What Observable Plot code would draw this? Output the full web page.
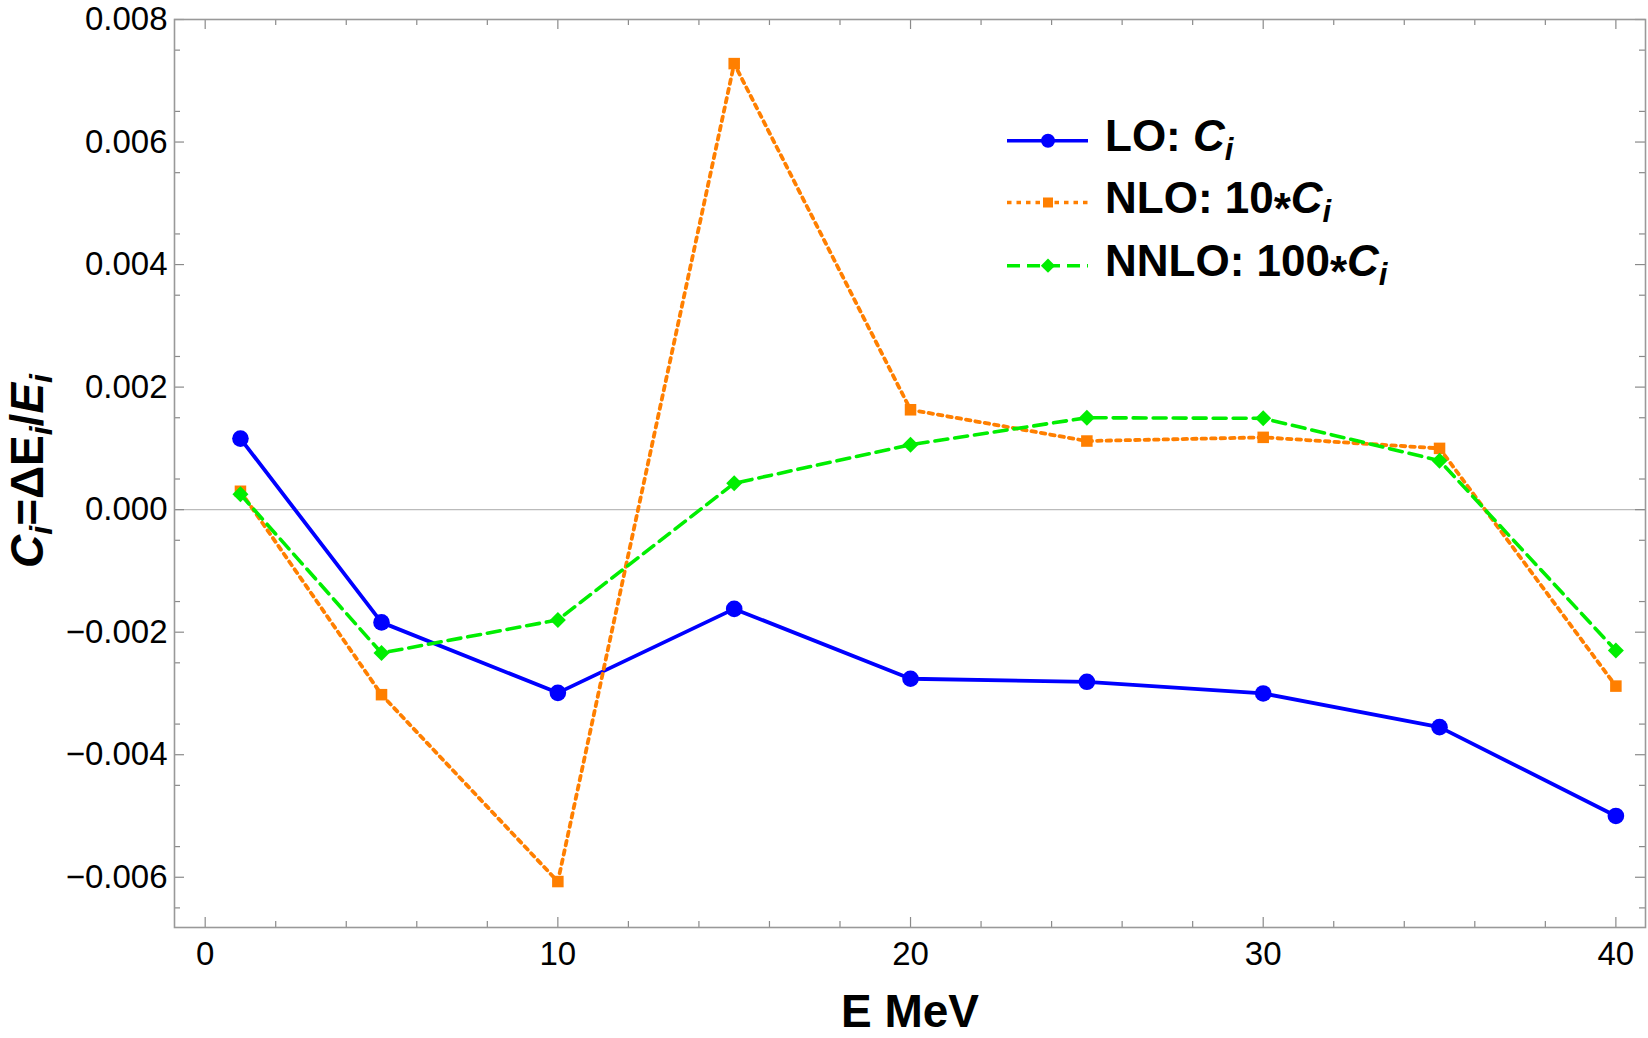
<!DOCTYPE html>
<html><head><meta charset="utf-8">
<script src="https://cdn.jsdelivr.net/npm/d3@7"></script>
<script src="https://cdn.jsdelivr.net/npm/@observablehq/plot@0.6"></script>
<style>
html,body{margin:0;padding:0;background:#fff;}
#chart{width:1648px;height:1038px;overflow:hidden;}
</style></head><body><div id="chart"></div>
<script>
// ---- data ----
const energies   = [1, 5, 10, 15, 20, 25, 30, 35, 40];
const loValues   = [0.00116, -0.00184, -0.00299, -0.00162, -0.00276, -0.00281, -0.00300, -0.00355, -0.00500];
const nloValues  = [0.00030, -0.00302, -0.00607, 0.00728, 0.00163, 0.00112, 0.00118, 0.00100, -0.00288];
const nnloValues = [0.00025, -0.00234, -0.00180, 0.00043, 0.00106, 0.00150, 0.00149, 0.00080, -0.00230];
const seriesNames = ["LO", "NLO", "NNLO"];
const xMajorTicks = [0, 10, 20, 30, 40];
const xMinorTicks = [2, 4, 6, 8, 12, 14, 16, 18, 22, 24, 26, 28, 32, 34, 36, 38];
const yMajorTicks = [-0.006, -0.004, -0.002, 0, 0.002, 0.004, 0.006, 0.008];
const yMinorTicks = [-0.0065, -0.0055, -0.0045, -0.0035, -0.0025, -0.0015, -0.0005,
                     0.0005, 0.0015, 0.0025, 0.0035, 0.0045, 0.0055, 0.0065, 0.0075];

// ---- layout ----
const W = 1648, H = 1038, mL = 174, mR = 3, mT = 19, mB = 111;
const fW = W - mL - mR, fH = H - mT - mB;
const blue = "#0000ff", orange = "#ff7f00", green = "#00ee00";
const tickColor = "#8a8a8a";

const lo   = energies.map((E, i) => ({E, C: loValues[i]}));
const nlo  = energies.map((E, i) => ({E, C: nloValues[i]}));
const nnlo = energies.map((E, i) => ({E, C: nnloValues[i]}));

const fmt = d3.format(".3f");

const plot = Plot.plot({
  width: W, height: H,
  marginLeft: mL, marginRight: mR, marginTop: mT, marginBottom: mB,
  style: {fontFamily: "'Liberation Sans', Arial, sans-serif", fontSize: "33px", color: "black", background: "white"},
  x: {domain: [-0.87, 40.84]},
  y: {domain: [-0.00682, 0.008]},
  marks: [
    Plot.ruleY([0], {stroke: "#bbbbbb", strokeWidth: 1.3}),
    // inward frame ticks
    Plot.tickX(xMajorTicks, {x: d => d, stroke: tickColor, strokeWidth: 1.2, insetTop: fH - 10}),
    Plot.tickX(xMinorTicks, {x: d => d, stroke: tickColor, strokeWidth: 1.2, insetTop: fH - 6}),
    Plot.tickX(xMajorTicks, {x: d => d, stroke: tickColor, strokeWidth: 1.2, insetBottom: fH - 10}),
    Plot.tickX(xMinorTicks, {x: d => d, stroke: tickColor, strokeWidth: 1.2, insetBottom: fH - 6}),
    Plot.tickY(yMajorTicks, {y: d => d, stroke: tickColor, strokeWidth: 1.2, insetRight: fW - 10}),
    Plot.tickY(yMinorTicks, {y: d => d, stroke: tickColor, strokeWidth: 1.2, insetRight: fW - 6}),
    Plot.tickY(yMajorTicks, {y: d => d, stroke: tickColor, strokeWidth: 1.2, insetLeft: fW - 10}),
    Plot.tickY(yMinorTicks, {y: d => d, stroke: tickColor, strokeWidth: 1.2, insetLeft: fW - 6}),
    Plot.frame({stroke: "#999999", strokeWidth: 1.6}),
    Plot.axisX(xMajorTicks, {tickSize: 0, tickPadding: 14, fontSize: 33, label: null}),
    Plot.axisY(yMajorTicks, {tickSize: 0, tickPadding: 7, fontSize: 33, tickFormat: fmt, label: null}),
    // series
    Plot.line(lo, {x: "E", y: "C", stroke: blue, strokeWidth: 3.8}),
    Plot.dot(lo, {x: "E", y: "C", r: 8.3, fill: blue, symbol: "circle"}),
    Plot.line(nlo, {x: "E", y: "C", stroke: orange, strokeWidth: 3.8, strokeDasharray: "4.5,5"}),
    Plot.dot(nlo, {x: "E", y: "C", r: 6.5, fill: orange, stroke: "none", symbol: "square"}),
    Plot.line(nnlo, {x: "E", y: "C", stroke: green, strokeWidth: 3.6, strokeDasharray: "13,7"}),
    Plot.dot(nnlo, {x: "E", y: "C", r: 7.2, fill: green, stroke: "none", symbol: "diamond2"})
  ]
});
document.getElementById("chart").appendChild(plot);

const svg = d3.select(plot);
const ff = "'Liberation Sans', Arial, sans-serif";

function addPieces(t, pieces) {
  pieces.forEach(p => {
    const ts = t.append("tspan").text(p.t);
    if (p.it) ts.attr("font-style", "italic");
    if (p.sub) ts.attr("font-size", p.sub);
    if (p.dy) ts.attr("dy", p.dy);
  });
}

// y-axis label
const yl = svg.append("text")
  .attr("transform", "translate(43,471) rotate(-90)")
  .attr("text-anchor", "middle")
  .attr("font-family", ff).attr("font-weight", "bold").attr("font-size", 46).attr("fill", "black");
addPieces(yl, [
  {t: "C", it: true}, {t: "i", it: true, sub: 32, dy: 9},
  {t: "=ΔE", dy: -9}, {t: "i", it: true, sub: 32, dy: 9},
  {t: "/", dy: -9}, {t: "E", it: true}, {t: "i", it: true, sub: 32, dy: 9}
]);

// x-axis label
svg.append("text")
  .attr("x", 910).attr("y", 1027)
  .attr("text-anchor", "middle")
  .attr("font-family", ff).attr("font-weight", "bold").attr("font-size", 46).attr("fill", "black")
  .text("E MeV");

// legend
const legendItems = [
  {name: seriesNames[0], color: blue, dash: null, width: 3.4, sym: d3.symbolCircle, size: Math.PI * 7 * 7,
   pieces: [{t: "LO: "}, {t: "C", it: true}, {t: "i", it: true, sub: 31, dy: 9}]},
  {name: seriesNames[1], color: orange, dash: "4.5,5", width: 3.4, sym: d3.symbolSquare, size: 100,
   pieces: [{t: "NLO: 10"}, {t: "*", dy: 11}, {t: "C", it: true, dy: -11}, {t: "i", it: true, sub: 31, dy: 9}]},
  {name: seriesNames[2], color: green, dash: "13,7", width: 3.4, sym: d3.symbolDiamond2, size: 130,
   pieces: [{t: "NNLO: 100"}, {t: "*", dy: 11}, {t: "C", it: true, dy: -11}, {t: "i", it: true, sub: 31, dy: 9}]}
];
const rowY = [140.7, 202.5, 265.7];
const lg = svg.append("g").attr("text-anchor", "start");
legendItems.forEach((it, i) => {
  const y = rowY[i];
  const ln = lg.append("line").attr("x1", 1007).attr("x2", 1088).attr("y1", y).attr("y2", y)
    .attr("stroke", it.color).attr("stroke-width", it.width);
  if (it.dash) ln.attr("stroke-dasharray", it.dash);
  lg.append("path").attr("d", d3.symbol(it.sym, it.size)()).attr("transform", `translate(1048,${y})`).attr("fill", it.color);
  const t = lg.append("text").attr("x", 1105).attr("y", y + 10).attr("text-anchor", "start")
    .attr("font-family", ff).attr("font-weight", "bold").attr("font-size", 44).attr("fill", "black");
  addPieces(t, it.pieces);
});
</script>
</body></html>
